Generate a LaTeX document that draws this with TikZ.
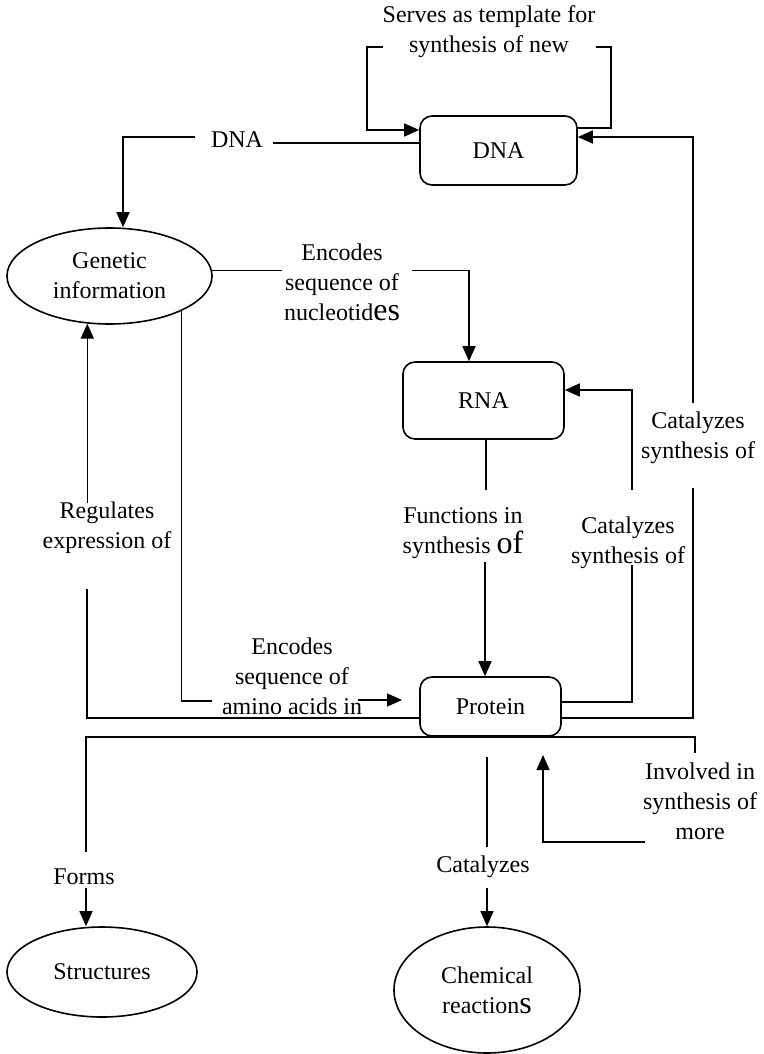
\documentclass[tikz,border=0pt]{standalone}
\usepackage{fontspec}
\setmainfont{Liberation Serif}
\usetikzlibrary{shapes.geometric,arrows.meta,calc}
\newcommand{\bigpart}[1]{{\fontsize{32}{30}\selectfont #1}}
\begin{document}
\begin{tikzpicture}[x=1pt,y=-1pt,
  every node/.style={font=\fontsize{24}{30}\selectfont},
  rbox/.style={draw,line width=1.6pt,rounded corners=12pt,inner sep=0pt,fill=white},
  oval/.style={draw,ellipse,line width=1.6pt,inner sep=0pt,fill=white},
  lbl/.style={align=center,inner sep=0pt},
  conn/.style={line width=1.5pt},
  arr/.style={conn,-{Triangle[length=15pt,width=13pt]}}]
\useasboundingbox (0,0) rectangle (763,1054);

% protein bus, passing under the protein box
\draw[conn] (86,852) -- (86,737) -- (695,737) -- (695,753);

% concept boxes and ovals
\node[rbox,minimum width=157pt,minimum height=69pt] (dna) at (498.5,150.5) {DNA};
\node[rbox,minimum width=161pt,minimum height=77pt] (rna) at (483.5,400.5) {RNA};
\node[rbox,minimum width=141pt,minimum height=59pt] (protein) at (490.5,706.5) {Protein};
\node[oval,minimum width=205pt,minimum height=96pt,align=center] (gen) at (109.5,276) {Genetic\\information};
\node[oval,minimum width=190pt,minimum height=90pt] (struct) at (102,972) {Structures};
\node[oval,minimum width=186pt,minimum height=126pt,align=center] (chem) at (487,990) {Chemical\\reaction\bigpart{s}};

% link phrases
\node[lbl] (lser) at (489,32) {Serves as template for\\synthesis of new};
\node[lbl] (ldna) at (237,140) {DNA};
\node[lbl] (lnuc) at (342,282) {Encodes\\sequence of\\nucleotid\bigpart{es}};
\node[lbl] (lreg) at (107,528) {Regulates\\expression of};
\node[lbl] (lfun) at (463,533) {Functions in\\synthesis \bigpart{of}};
\node[lbl] (lcatr) at (628,543) {Catalyzes\\synthesis of};
\node[lbl] (lcatd) at (698,438) {Catalyzes\\synthesis of};
\node[lbl] (lami) at (292,676) {Encodes\\sequence of\\amino acids in};
\node[lbl] (linv) at (700,801) {Involved in\\synthesis of\\more};
\node[lbl] (lform) at (84,877) {Forms};
\node[lbl] (lcatc) at (483,867) {Catalyzes};

% DNA serves as template for new DNA
\draw[arr] (lser.west |- 0,47) -- (367,47) -- (367,130) -- (dna.west |- 0,130);
\draw[conn] (lser.east |- 0,47) -- (611,47) -- (611,128) -- (dna.east |- 0,128);

% DNA -> genetic information
\draw[conn] (dna.west |- 0,143) -- (273,143);
\draw[arr] (195,137) -- (123,137) -- (gen.north -| 123,0);

% genetic information -> RNA
\draw[conn] (gen.3) -- (gen.3 -| 282,0);
\draw[arr] (gen.3 -| 412,0) -- (gen.3 -| 469,0) -- (rna.north -| 469,0);

% RNA -> protein
\draw[conn] (rna.south -| 486,0) -- (486,490);
\draw[arr] (485,562) -- (protein.north -| 485,0);

% protein -> RNA
\draw[conn] (protein.east |- 0,702) -- (632,702) -- (632,565);
\draw[arr] (632,490) -- (632,390) -- (rna.east |- 0,390);

% protein -> DNA
\draw[conn] (protein.east |- 0,718) -- (693,718) -- (693,488);
\draw[arr] (693,403) -- (693,137) -- (dna.east |- 0,137);

% protein regulates genetic information
\draw[conn] (protein.west |- 0,718) -- (87,718) -- (87,589);
\draw[arr] (gen.-115.7 |- 0,503) -- (gen.-115.7);

% genetic information encodes protein
\draw[conn] (gen.-26.3) -- (gen.-26.3 |- 0,701) -- (212,701);
\coordinate (amitip) at (402,700);
\draw[arr] (358,700) -- (amitip);

% forms structures
\draw[arr] (86,888) -- (struct.north -| 86,0);

% catalyzes chemical reactions
\draw[conn] (487,757) -- (487,847);
\draw[arr] (487,888) -- (chem.north -| 487,0);

% involved in synthesis of more protein
\coordinate (invtip) at (543,755);
\draw[arr] (645,842) -- (543,842) -- (invtip);
\end{tikzpicture}
\end{document}
